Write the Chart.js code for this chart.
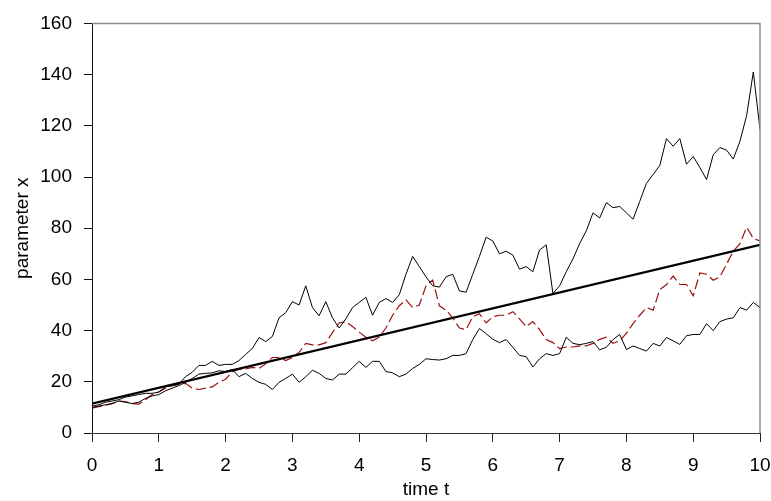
<!DOCTYPE html>
<html>
<head>
<meta charset="utf-8">
<script src="https://cdn.jsdelivr.net/npm/chart.js@4/dist/chart.umd.min.js"></script>
<style>
  html, body { margin: 0; padding: 0; background: #ffffff; }
  #wrap { width: 771px; height: 501px; }
</style>
</head>
<body>
<div id="wrap"><canvas id="c" width="771" height="501"></canvas></div>
<script>
// time points t
const timeT = [0,0.1,0.2,0.3,0.4,0.5,0.6,0.7,0.8,0.9,1,1.1,1.2,1.3,1.4,1.5,1.6,1.7,1.8,1.9,2,2.1,2.2,2.3,2.4,2.5,2.6,2.7,2.8,2.9,3,3.1,3.2,3.3,3.4,3.5,3.6,3.7,3.8,3.9,4,4.1,4.2,4.3,4.4,4.5,4.6,4.7,4.8,4.9,5,5.1,5.2,5.3,5.4,5.5,5.6,5.7,5.8,5.9,6,6.1,6.2,6.3,6.4,6.5,6.6,6.7,6.8,6.9,7,7.1,7.2,7.3,7.4,7.5,7.6,7.7,7.8,7.9,8,8.1,8.2,8.3,8.4,8.5,8.6,8.7,8.8,8.9,9,9.1,9.2,9.3,9.4,9.5,9.6,9.7,9.8,9.9,10];

// upper simulated path (black)
const pathUpper = [10.5,11,12,12.5,13,14,14.5,15,15.5,15.5,16,18,18.5,19,22,23.7,26.4,26.4,28,26.4,26.8,26.8,28.3,30.7,33,37.3,35.7,37.7,45,47,51.3,50,57.5,49,45.8,51.3,45,41,44.6,49,51,53,46,51,52.5,51,54,62,69,65,61,57.5,57,61,62,55.5,55,62,69,76.5,75,70,71,69.5,64,65,63,71.5,73.5,54.5,57.5,63,68,74,79,86,84,90,88,88.5,86,83.5,90.5,97.5,101,104.5,115,112,115,105,108,103.7,99,108.7,111.5,110.5,107,114,124,141,118.5];

// lower simulated path (black)
const pathLower = [10,10.5,11,11.5,12.5,12,11.5,12,13.5,14.5,15,16.5,17.5,18.5,19.8,21.3,23,23.3,23.5,24.3,24,24.8,22,23.3,21.3,19.8,19,17,19.8,21.3,23,19.8,22,24.5,23.3,21.3,20.7,23,23,25.5,28,25.6,28,28,24,23.5,22,23,25.2,26.8,29,28.7,28.5,29,30.3,30.3,31,36.5,40.8,38.8,36.6,35.3,36.5,33.5,30.3,29.8,25.8,29,31,30.3,31,37.4,35,34.5,35,35.7,32.5,33.5,36.5,38.5,32.6,34,33,32,35,34,37.3,36,34.6,38,38.5,38.5,42.7,40,43.5,44.5,45,49,48,51,49];

// middle simulated path (dark red dashed)
const pathMiddle = [9.7,10.3,10.8,11.5,12.5,12.3,11.5,11.3,13,15,16,17.5,18.5,19,19.4,17.5,17,17.5,18,19.8,21,24,24.8,25,25.6,25.2,27,29.5,29.5,28.3,29.5,31.5,35,34.4,34.4,35.3,39.2,43,43.5,41.6,39.4,37.4,36,37.5,41,46,49.7,52,49,50,57.5,59.7,49.7,48,45,41,40.4,45.4,46.6,43,45.4,46,46,47.4,44.6,41.5,43.5,40.4,36.5,35.3,33,33.6,33.6,34,34,35,36.6,37.4,35,36,39,42.7,46,49,48,56,58,61.3,58,58,53.6,62.5,62,59.7,61,66,71,74,80.4,76,75];

// expected value trend line
const trendT = [0, 10];
const trendX = [11.5, 73.5];

// axis ticks
const xTicks = [0,1,2,3,4,5,6,7,8,9,10];
const yTicks = [0,20,40,60,80,100,120,140,160];

const toPts = (xs, ys) => xs.map((x, i) => ({ x: x, y: ys[i] }));

const frame = {
  id: 'frame',
  afterDraw(chart) {
    const { ctx, chartArea: a } = chart;
    ctx.save();
    ctx.strokeStyle = '#8c8c8c';
    ctx.lineWidth = 1.5;
    ctx.beginPath();
    ctx.moveTo(a.left, a.top);
    ctx.lineTo(a.right, a.top);
    ctx.lineTo(a.right, a.bottom);
    ctx.stroke();
    ctx.restore();
  }
};

const FONT = "'Liberation Sans', Arial, sans-serif";

new Chart(document.getElementById('c'), {
  type: 'line',
  data: {
    datasets: [
      { data: toPts(trendT, trendX), borderColor: '#000000', borderWidth: 2.3, pointRadius: 0, tension: 0, order: 0 },
      { data: toPts(timeT, pathUpper), borderColor: '#000000', borderWidth: 1, pointRadius: 0, tension: 0, order: 1 },
      { data: toPts(timeT, pathLower), borderColor: '#000000', borderWidth: 1, pointRadius: 0, tension: 0, order: 2 },
      { data: toPts(timeT, pathMiddle), borderColor: '#9a1010', borderWidth: 1.2, borderDash: [10, 4], pointRadius: 0, tension: 0, order: 3 }
    ]
  },
  options: {
    responsive: false,
    animation: false,
    events: [],
    layout: { padding: { top: 19.5, right: 0, left: 0, bottom: 0 } },
    plugins: { legend: { display: false }, tooltip: { enabled: false } },
    scales: {
      x: {
        type: 'linear',
        min: 0, max: 10,
        afterBuildTicks: (s) => { s.ticks = xTicks.map(v => ({ value: v })); },
        afterFit: (s) => { s.height = 68; s.paddingRight = 11; },
        grid: { drawOnChartArea: false, drawTicks: true, tickLength: 9, color: '#222222', tickWidth: 1 },
        border: { display: true, color: '#333333', width: 1 },
        ticks: { color: '#000000', padding: 12, maxRotation: 0, font: { family: FONT, size: 19 } },
        title: { display: true, text: 'time t', color: '#000000', padding: { top: 0, bottom: 0 }, font: { family: FONT, size: 19 } }
      },
      y: {
        min: 0, max: 160,
        afterBuildTicks: (s) => { s.ticks = yTicks.map(v => ({ value: v })); },
        afterFit: (s) => { s.width = 92; },
        grid: { drawOnChartArea: false, drawTicks: true, tickLength: 8, color: '#111111', tickWidth: 1 },
        border: { display: true, color: '#111111', width: 1 },
        ticks: { color: '#000000', padding: 12, font: { family: FONT, size: 19 } },
        title: { display: true, text: 'parameter x', color: '#000000', padding: { top: 11, bottom: 0 }, font: { family: FONT, size: 19 } }
      }
    }
  },
  plugins: [frame]
});
</script>
</body>
</html>
